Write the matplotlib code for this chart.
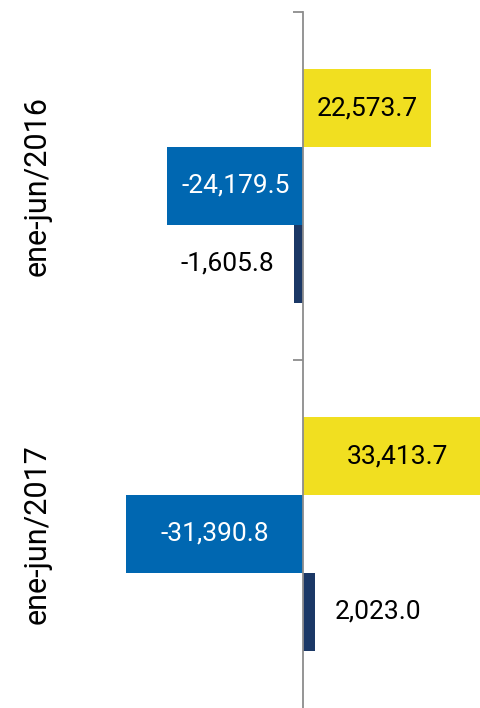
import matplotlib
matplotlib.use("Agg")
import matplotlib.pyplot as plt
import matplotlib.transforms as mtransforms
import numpy as np

plt.rcParams['font.family'] = ['Roboto', 'DejaVu Sans']

# Data
categories = ["ene-jun/2016", "ene-jun/2017"]
series_a = [22573.7, 33413.7]     # yellow
series_b = [-24179.5, -31390.8]   # blue
series_c = [-1605.8, 2023.0]      # dark navy
labels_a = ["22,573.7", "33,413.7"]
labels_b = ["-24,179.5", "-31,390.8"]
labels_c = ["-1,605.8", "2,023.0"]

yellow = "#F1DF20"
blue = "#0067B1"
navy = "#1B3866"
grey = "#8C8C8C"

fig = plt.figure(figsize=(4.81, 7.08), dpi=100)
ax = fig.add_axes([0, 0, 1, 1 - 12 / 708])

y = np.arange(len(categories))
h = 0.2233

ax.barh(y - h, series_a, height=h, color=yellow, zorder=2)
ax.barh(y, series_b, height=h, color=blue, zorder=2)
ax.barh(y + h, series_c, height=h, color=navy, zorder=2)

ax.set_xlim(-53800, 31500)
ax.set_ylim(1.5, -0.5)

fs = 19
for i in range(len(categories)):
    ax.text(series_a[i] / 2, y[i] - h, labels_a[i], ha='center', va='center',
            fontsize=fs, color='black', zorder=3)
    ax.text(series_b[i] / 2, y[i], labels_b[i], ha='center', va='center',
            fontsize=fs, color='white', zorder=3)
    off = 20 if series_c[i] >= 0 else -20
    ax.annotate(labels_c[i], xy=(series_c[i], y[i] + h), xytext=(off * 0.72, 0),
                textcoords='offset points', ha='left' if off > 0 else 'right',
                va='center', fontsize=fs, color='black', zorder=3)

# category labels on the far left
trans = mtransforms.blended_transform_factory(ax.transAxes, ax.transData)
for i, cat in enumerate(categories):
    ax.text(37 / 481, y[i], cat, rotation=90, ha='center', va='center',
            fontsize=22, color='black', transform=trans)

# axis styling
for s in ['top', 'right', 'bottom']:
    ax.spines[s].set_visible(False)
ax.spines['left'].set_position(('data', 0))
ax.spines['left'].set_color(grey)
ax.spines['left'].set_linewidth(1.3)
ax.spines['left'].set_zorder(4)
ax.set_xticks([])
ax.set_yticks([])
ax.set_yticks([-0.5, 0.5], minor=True)
ax.tick_params(axis='y', which='minor', length=7.2, width=1.3, color=grey,
               direction='out', labelleft=False)

fig.savefig("out.png", dpi=100)
